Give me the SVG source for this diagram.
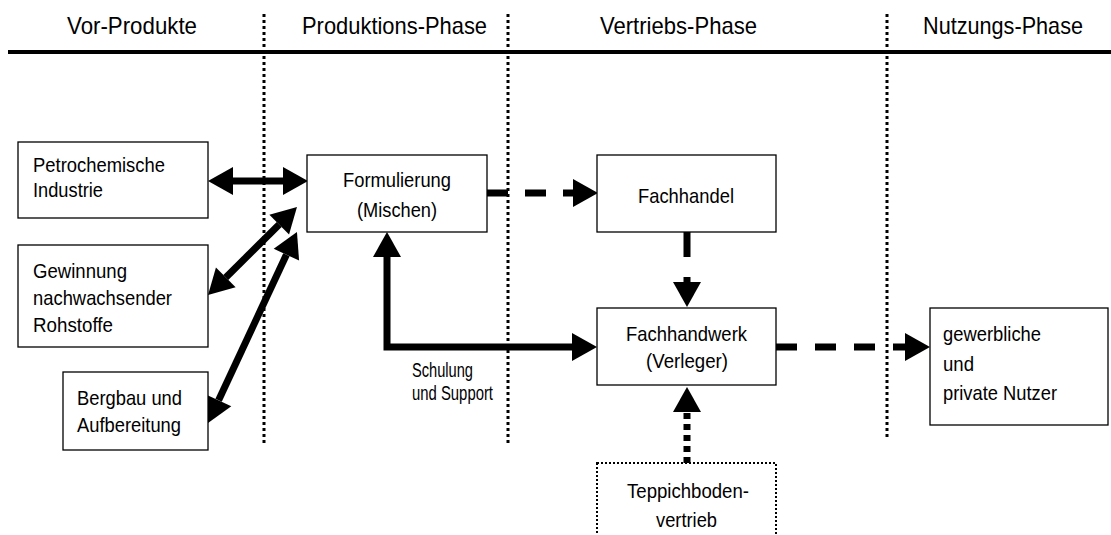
<svg xmlns="http://www.w3.org/2000/svg" width="1111" height="535" viewBox="0 0 1111 535">
  <style>
    text { font-family: "Liberation Sans", Arial, sans-serif; fill: #000; }
    .head { font-size: 24px; }
    .lbl { font-size: 21px; }
    .small { font-size: 20px; }
    .box { fill: #fff; stroke: #000; stroke-width: 1.3; }
    .box-dotted { fill: #fff; stroke: #000; stroke-width: 2; stroke-dasharray: 2 2; }
    .phase { stroke: #000; stroke-width: 3; stroke-dasharray: 3 3; fill: none; }
    .rule { stroke: #000; stroke-width: 4; }
    .flow { stroke: #000; stroke-width: 7; fill: none; stroke-linejoin: miter; }
    .dash { stroke-dasharray: 21 17; }
    .dots { stroke-dasharray: 6 5; }
  </style>
  <defs>
    <marker id="head" markerUnits="userSpaceOnUse" markerWidth="26" markerHeight="28" refX="0" refY="14" orient="auto-start-reverse" overflow="visible">
      <path d="M0,0 L25,14 L0,28 Z" fill="#000"/>
    </marker>
  </defs>

  <rect width="1111" height="535" fill="#fff"/>

  <!-- phase headings and separators -->
  <g id="phases">
    <text class="head" x="67" y="34" textLength="130" lengthAdjust="spacingAndGlyphs">Vor-Produkte</text>
    <text class="head" x="302" y="34" textLength="185" lengthAdjust="spacingAndGlyphs">Produktions-Phase</text>
    <text class="head" x="600" y="34" textLength="157" lengthAdjust="spacingAndGlyphs">Vertriebs-Phase</text>
    <text class="head" x="923" y="34" textLength="160" lengthAdjust="spacingAndGlyphs">Nutzungs-Phase</text>
    <line class="rule" x1="8" y1="52" x2="1111" y2="52"/>
    <line class="phase" x1="264" y1="14" x2="264" y2="445"/>
    <line class="phase" x1="508" y1="14" x2="508" y2="445"/>
    <line class="phase" x1="887" y1="14" x2="887" y2="440"/>
  </g>

  <!-- connectors -->
  <g id="connectors">
    <line class="flow" x1="233" y1="181" x2="283" y2="181" marker-start="url(#head)" marker-end="url(#head)"/>
    <line class="flow" x1="225.8" y1="277.4" x2="279.2" y2="224.6" marker-start="url(#head)" marker-end="url(#head)"/>
    <line class="flow" x1="218.6" y1="400.3" x2="286.4" y2="254.7" marker-start="url(#head)" marker-end="url(#head)"/>
    <line class="flow dash" x1="487" y1="193" x2="573" y2="193" marker-end="url(#head)"/>
    <line class="flow" style="stroke-dasharray:25 20" x1="687" y1="232" x2="687" y2="282" marker-end="url(#head)"/>
    <path class="flow" d="M387,257 L387,347 L572,347" marker-start="url(#head)" marker-end="url(#head)"/>
    <line class="flow" style="stroke-dasharray:21 18" x1="776" y1="347" x2="905" y2="347" marker-end="url(#head)"/>
    <line class="flow dots" x1="687" y1="463" x2="687" y2="412" marker-end="url(#head)"/>
    <text class="small" x="412" y="377" textLength="61" lengthAdjust="spacingAndGlyphs">Schulung</text>
    <text class="small" x="412" y="400" textLength="81" lengthAdjust="spacingAndGlyphs">und Support</text>
  </g>

  <!-- nodes -->
  <g id="petrochemie">
    <rect class="box" x="18" y="142" width="190" height="76"/>
    <text class="lbl" x="33" y="172" textLength="132" lengthAdjust="spacingAndGlyphs">Petrochemische</text>
    <text class="lbl" x="33" y="197" textLength="70" lengthAdjust="spacingAndGlyphs">Industrie</text>
  </g>
  <g id="rohstoffe">
    <rect class="box" x="18" y="245" width="190" height="102"/>
    <text class="lbl" x="33" y="278" textLength="94" lengthAdjust="spacingAndGlyphs">Gewinnung</text>
    <text class="lbl" x="33" y="305" textLength="139" lengthAdjust="spacingAndGlyphs">nachwachsender</text>
    <text class="lbl" x="33" y="332" textLength="80" lengthAdjust="spacingAndGlyphs">Rohstoffe</text>
  </g>
  <g id="bergbau">
    <rect class="box" x="63" y="372" width="145" height="78"/>
    <text class="lbl" x="77" y="405" textLength="105" lengthAdjust="spacingAndGlyphs">Bergbau und</text>
    <text class="lbl" x="77" y="432" textLength="104" lengthAdjust="spacingAndGlyphs">Aufbereitung</text>
  </g>
  <g id="formulierung">
    <rect class="box" x="307" y="155" width="180" height="77"/>
    <text class="lbl" x="343" y="187" textLength="108" lengthAdjust="spacingAndGlyphs">Formulierung</text>
    <text class="lbl" x="357" y="217" textLength="80" lengthAdjust="spacingAndGlyphs">(Mischen)</text>
  </g>
  <g id="fachhandel">
    <rect class="box" x="597" y="155" width="179" height="77"/>
    <text class="lbl" x="638" y="203" textLength="96" lengthAdjust="spacingAndGlyphs">Fachhandel</text>
  </g>
  <g id="fachhandwerk">
    <rect class="box" x="597" y="308" width="179" height="77"/>
    <text class="lbl" x="626" y="341" textLength="121" lengthAdjust="spacingAndGlyphs">Fachhandwerk</text>
    <text class="lbl" x="646" y="368" textLength="82" lengthAdjust="spacingAndGlyphs">(Verleger)</text>
  </g>
  <g id="teppichboden">
    <rect class="box-dotted" x="597" y="463" width="179" height="80"/>
    <text class="lbl" x="627" y="498" textLength="122" lengthAdjust="spacingAndGlyphs">Teppichboden-</text>
    <text class="lbl" x="656" y="527" textLength="61" lengthAdjust="spacingAndGlyphs">vertrieb</text>
  </g>
  <g id="nutzer">
    <rect class="box" x="930" y="308" width="178" height="117"/>
    <text class="lbl" x="943" y="341" textLength="98" lengthAdjust="spacingAndGlyphs">gewerbliche</text>
    <text class="lbl" x="943" y="371" textLength="31" lengthAdjust="spacingAndGlyphs">und</text>
    <text class="lbl" x="943" y="400" textLength="114" lengthAdjust="spacingAndGlyphs">private Nutzer</text>
  </g>
</svg>
